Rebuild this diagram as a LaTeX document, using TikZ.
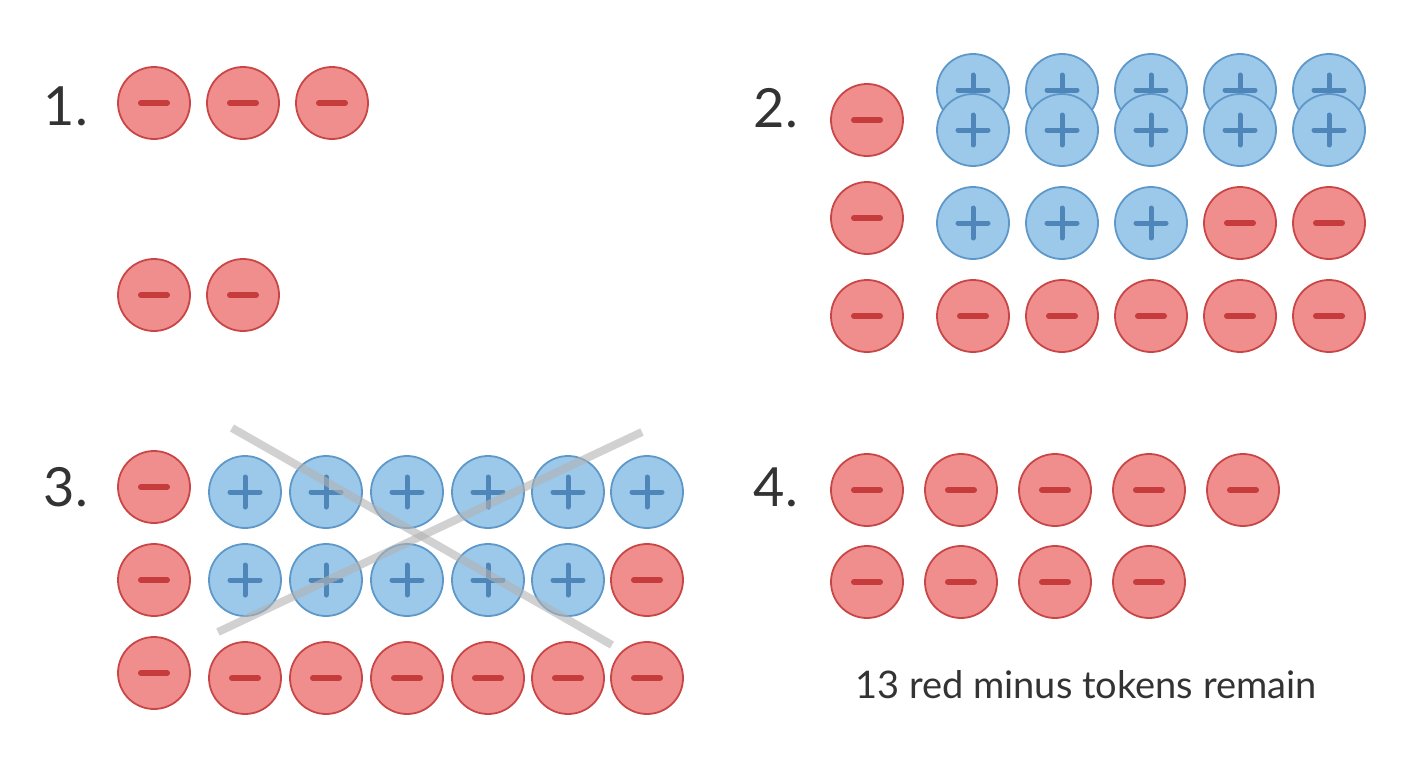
\documentclass[tikz,border=0pt]{standalone}
\usepackage{fontspec}
\setmainfont{Lato}
\definecolor{rf}{HTML}{F08D8D}
\definecolor{rb}{HTML}{C94646}
\definecolor{rm}{HTML}{C63B3B}
\definecolor{bf}{HTML}{9CC8EA}
\definecolor{bb}{HTML}{5E98C8}
\definecolor{bm}{HTML}{4E86BA}
\definecolor{tx}{HTML}{333333}
\begin{document}
\begin{tikzpicture}[x=1pt,y=-1pt,
  tok/.style={circle,minimum size=72pt,inner sep=0pt,line width=1.8pt},
  negtok/.style={tok,fill=rf,draw=rb,path picture={\draw[rm,line width=6pt,line cap=round] ([xshift=-13pt]path picture bounding box.center)--([xshift=13pt]path picture bounding box.center);}},
  postok/.style={tok,fill=bf,draw=bb,path picture={\draw[bm,line width=5pt,line cap=round] ([xshift=-15pt]path picture bounding box.center)--([xshift=15pt]path picture bounding box.center) ([yshift=-15pt]path picture bounding box.center)--([yshift=15pt]path picture bounding box.center);}},
  num/.style={font=\fontsize{54}{60}\selectfont,text=tx,anchor=center},
  cross/.style={line width=8pt,draw=gray!60,opacity=0.6}]
\useasboundingbox (0,0) rectangle (1408,768);
% panel 1
\node[num] (n1) at (66,106) {1.};
\foreach \x/\i in {154/a,243/b,332/c} \node[negtok] (p1\i) at (\x,103) {};
\foreach \x/\i in {154/d,243/e} \node[negtok] (p1\i) at (\x,295) {};
% panel 2
\node[num] (n2) at (776,108) {2.};
\foreach \y/\i in {120/a,218/b,316/c} \node[negtok] (p2l\i) at (867,\y) {};
\foreach \x [count=\i] in {973,1062,1151,1240,1329} \node[postok] (p2t\i) at (\x,90) {};
\foreach \x [count=\i] in {973,1062,1151,1240,1329} \node[postok] (p2f\i) at (\x,130) {};
\foreach \x [count=\i] in {973,1062,1151} \node[postok] (p2m\i) at (\x,223) {};
\foreach \x [count=\i] in {1240,1329} \node[negtok] (p2r\i) at (\x,223) {};
\foreach \x [count=\i] in {973,1062,1151,1240,1329} \node[negtok] (p2b\i) at (\x,316) {};
% panel 3
\node[num] (n3) at (66,487) {3.};
\foreach \y/\i in {487/a,580/b,673/c} \node[negtok] (p3l\i) at (154,\y) {};
\foreach \x [count=\i] in {245,326,407,488,568,647} \node[postok] (p3t\i) at (\x,492) {};
\foreach \x [count=\i] in {245,326,407,488,568} \node[postok] (p3m\i) at (\x,580) {};
\node[negtok] (p3m6) at (647,580) {};
\foreach \x [count=\i] in {245,326,407,488,568,647} \node[negtok] (p3b\i) at (\x,678) {};
\coordinate (c1) at (232,428); \coordinate (c2) at (612,645);
\coordinate (c3) at (218,632); \coordinate (c4) at (642,432);
\draw[cross] (c1)--(c2);
\draw[cross] (c3)--(c4);
% panel 4
\node[num] (n4) at (776,487) {4.};
\foreach \x [count=\i] in {867,961,1055,1149,1243} \node[negtok] (p4t\i) at (\x,490) {};
\foreach \x [count=\i] in {867,961,1055,1149} \node[negtok] (p4b\i) at (\x,582) {};
\node[text=tx,font=\fontsize{38}{44}\selectfont] (lab) at (1086,685) {13 red minus tokens remain};
\end{tikzpicture}
\end{document}
